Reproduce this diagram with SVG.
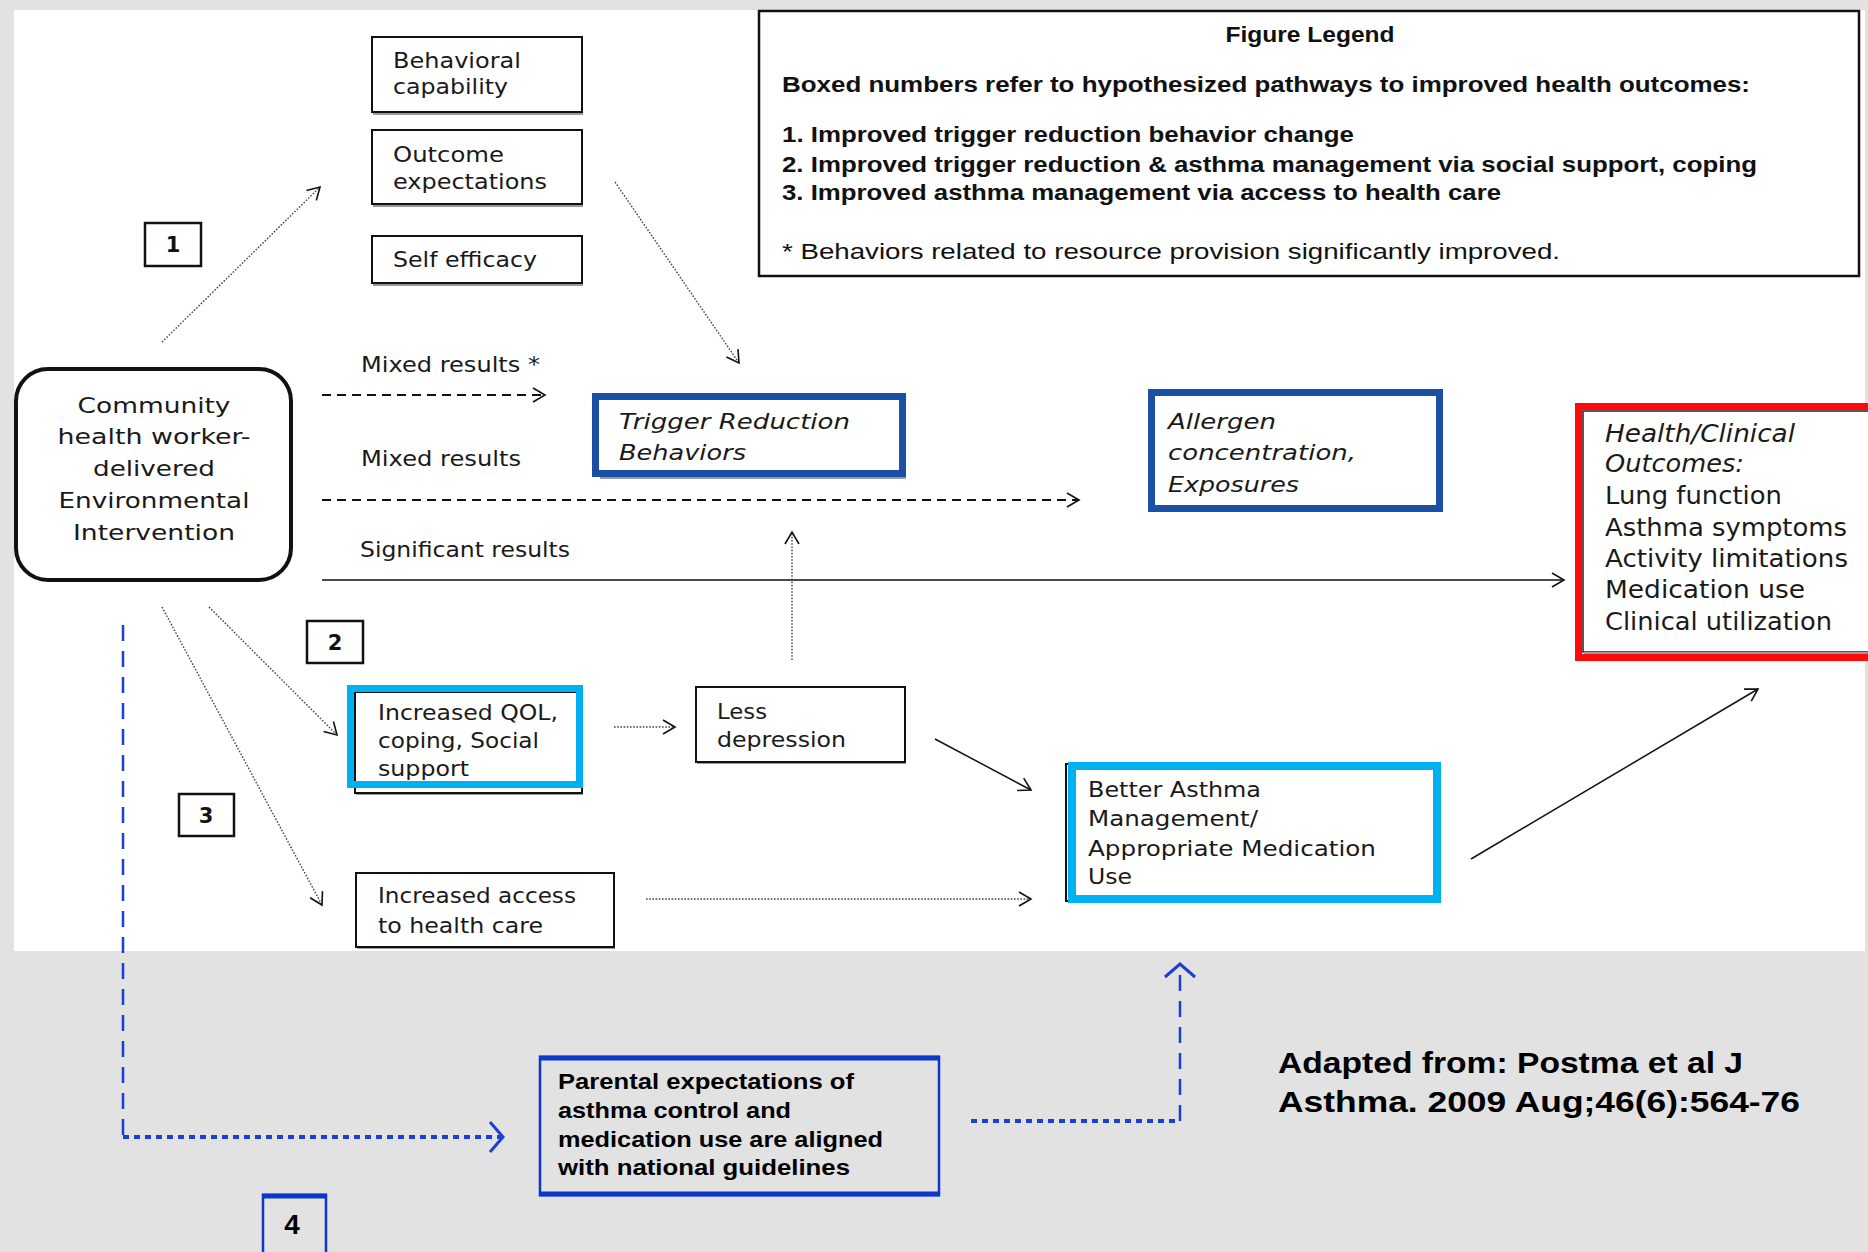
<svg xmlns="http://www.w3.org/2000/svg" width="1868" height="1252" viewBox="0 0 1868 1252">
<style>
.t{font-family:"DejaVu Sans",sans-serif;font-size:22px;fill:#1a1a1a}
.ti{font-family:"DejaVu Sans",sans-serif;font-size:22px;font-style:italic;fill:#1a1a1a}
.th{font-family:"DejaVu Sans",sans-serif;font-size:24px;fill:#1a1a1a}
.lg{font-family:"Liberation Sans",Arial,sans-serif;font-size:22px;font-weight:bold;fill:#111}
.lgn{font-family:"Liberation Sans",Arial,sans-serif;font-size:22px;fill:#111}
.num{font-family:"DejaVu Sans",sans-serif;font-size:21px;font-weight:bold;fill:#111;text-anchor:middle}
.pb{font-family:"Liberation Sans",Arial,sans-serif;font-size:22px;font-weight:bold;fill:#000}
.ad{font-family:"Liberation Sans",Arial,sans-serif;font-size:30px;font-weight:bold;fill:#000}
.box{fill:#fff;stroke:#111;stroke-width:2}
.shadow{fill:#9a9a9a}
.dot{fill:none;stroke:#444;stroke-width:1.4;stroke-dasharray:1.6 1.6}
.dash{fill:none;stroke:#111;stroke-width:1.8;stroke-dasharray:9 6}
.solid{fill:none;stroke:#111;stroke-width:1.5}
.bdash{fill:none;stroke:#1b3fd4;stroke-width:2.5;stroke-dasharray:16 10}
.bdot{fill:none;stroke:#1b3fd4;stroke-width:4;stroke-dasharray:6 5}
</style>
<defs>
<marker id="ah" markerUnits="userSpaceOnUse" markerWidth="16" markerHeight="16" refX="12" refY="7" orient="auto" overflow="visible">
<path d="M0,0 L12,7 L0,14" fill="none" stroke="#111" stroke-width="1.6"/>
</marker>
<marker id="abh" markerUnits="userSpaceOnUse" markerWidth="20" markerHeight="34" refX="13" refY="15" orient="auto" overflow="visible">
<path d="M0,0 L13,15 L0,30" fill="none" stroke="#1b3fd4" stroke-width="3"/>
</marker>
</defs>

<rect x="0" y="0" width="1868" height="1252" fill="#e2e2e2"/>
<rect x="14" y="10" width="1851" height="941" fill="#fff"/>

<g id="connectors">
<line class="dot" x1="162" y1="342" x2="320" y2="187" marker-end="url(#ah)"/>
<line class="dot" x1="615" y1="182" x2="739" y2="363" marker-end="url(#ah)"/>
<line class="dash" x1="322" y1="395" x2="545" y2="395" marker-end="url(#ah)"/>
<line class="dash" x1="322" y1="500" x2="1079" y2="500" marker-end="url(#ah)"/>
<line class="solid" x1="322" y1="580" x2="1564" y2="580" marker-end="url(#ah)"/>
<line class="dot" x1="792" y1="660" x2="792" y2="532" marker-end="url(#ah)"/>
<line class="dot" x1="209" y1="607" x2="337" y2="735" marker-end="url(#ah)"/>
<line class="dot" x1="162" y1="607" x2="322" y2="905" marker-end="url(#ah)"/>
<line class="dot" x1="614" y1="727" x2="675" y2="727" marker-end="url(#ah)"/>
<line class="solid" x1="935" y1="739" x2="1031" y2="790" stroke-width="1.2" marker-end="url(#ah)"/>
<line class="dot" x1="646" y1="899" x2="1031" y2="899" marker-end="url(#ah)"/>
<line class="solid" x1="1471" y1="859" x2="1758" y2="689" stroke-width="1.2" marker-end="url(#ah)"/>
<line class="bdash" x1="123" y1="625" x2="123" y2="1137"/>
<line class="bdot" x1="123" y1="1137" x2="503" y2="1137" marker-end="url(#abh)"/>
<line class="bdot" x1="971" y1="1121" x2="1180" y2="1121"/>
<line class="bdash" x1="1180" y1="1121" x2="1180" y2="964" marker-end="url(#abh)"/>
<text class="t" x="361" y="372" textLength="179" lengthAdjust="spacingAndGlyphs">Mixed results *</text>
<text class="t" x="361" y="466" textLength="160" lengthAdjust="spacingAndGlyphs">Mixed results</text>
<text class="t" x="360" y="557" textLength="210" lengthAdjust="spacingAndGlyphs">Significant results</text>
</g>

<g id="legend">
<rect x="759" y="11" width="1100" height="265" fill="#fff" stroke="#111" stroke-width="2.5"/>
<text class="lg" x="1310" y="42" text-anchor="middle" textLength="169" lengthAdjust="spacingAndGlyphs">Figure Legend</text>
<text class="lg" x="782" y="92" textLength="968" lengthAdjust="spacingAndGlyphs">Boxed numbers refer to hypothesized pathways to improved health outcomes:</text>
<text class="lg" x="782" y="142" textLength="572" lengthAdjust="spacingAndGlyphs">1. Improved trigger reduction behavior change</text>
<text class="lg" x="782" y="172" textLength="975" lengthAdjust="spacingAndGlyphs">2. Improved trigger reduction &amp; asthma management via social support, coping</text>
<text class="lg" x="782" y="200" textLength="719" lengthAdjust="spacingAndGlyphs">3. Improved asthma management via access to health care</text>
<text class="lgn" x="782" y="259" textLength="778" lengthAdjust="spacingAndGlyphs">* Behaviors related to resource provision  significantly improved.</text>
</g>

<g id="community">
<rect x="16" y="369" width="275" height="211" rx="32" fill="#fff" stroke="#111" stroke-width="4"/>
<text class="t" x="154" y="413" text-anchor="middle" textLength="153" lengthAdjust="spacingAndGlyphs">Community</text>
<text class="t" x="154" y="444" text-anchor="middle" textLength="193" lengthAdjust="spacingAndGlyphs">health worker-</text>
<text class="t" x="154" y="476" text-anchor="middle" textLength="122" lengthAdjust="spacingAndGlyphs">delivered</text>
<text class="t" x="154" y="508" text-anchor="middle" textLength="191" lengthAdjust="spacingAndGlyphs">Environmental</text>
<text class="t" x="154" y="540" text-anchor="middle" textLength="162" lengthAdjust="spacingAndGlyphs">Intervention</text>
</g>

<g id="behavioral">
<rect class="shadow" x="373" y="111" width="210" height="4"/>
<rect class="box" x="372" y="37" width="210" height="75"/>
<text class="t" x="393" y="68" textLength="128" lengthAdjust="spacingAndGlyphs">Behavioral</text>
<text class="t" x="393" y="94" textLength="115" lengthAdjust="spacingAndGlyphs">capability</text>
</g>

<g id="outcome">
<rect class="shadow" x="373" y="203" width="210" height="4"/>
<rect class="box" x="372" y="130" width="210" height="74"/>
<text class="t" x="393" y="162" textLength="111" lengthAdjust="spacingAndGlyphs">Outcome</text>
<text class="t" x="393" y="189" textLength="154" lengthAdjust="spacingAndGlyphs">expectations</text>
</g>

<g id="selfefficacy">
<rect class="shadow" x="373" y="282" width="210" height="4"/>
<rect class="box" x="372" y="236" width="210" height="47"/>
<text class="t" x="393" y="267" textLength="144" lengthAdjust="spacingAndGlyphs">Self efficacy</text>
</g>

<g id="num1">
<rect x="145" y="223" width="56" height="43" fill="#fff" stroke="#111" stroke-width="2.5"/>
<text class="num" x="173" y="252">1</text>
</g>
<g id="num2">
<rect x="307" y="621" width="56" height="42" fill="#fff" stroke="#111" stroke-width="2.5"/>
<text class="num" x="335" y="650">2</text>
</g>
<g id="num3">
<rect x="179" y="794" width="55" height="42" fill="#fff" stroke="#111" stroke-width="2.5"/>
<text class="num" x="206" y="823">3</text>
</g>

<g id="trigger">
<rect class="shadow" x="600" y="476" width="306" height="3"/>
<rect x="595.5" y="396.5" width="307" height="77" fill="#fff" stroke="#1b4fa3" stroke-width="7"/>
<text class="ti" x="619" y="429" textLength="231" lengthAdjust="spacingAndGlyphs">Trigger Reduction</text>
<text class="ti" x="619" y="460" textLength="127" lengthAdjust="spacingAndGlyphs">Behaviors</text>
</g>

<g id="allergen">
<rect x="1151.5" y="392.5" width="288" height="116" fill="#fff" stroke="#1b4fa3" stroke-width="7"/>
<text class="ti" x="1168" y="429" textLength="108" lengthAdjust="spacingAndGlyphs">Allergen</text>
<text class="ti" x="1168" y="460" textLength="188" lengthAdjust="spacingAndGlyphs">concentration,</text>
<text class="ti" x="1168" y="492" textLength="131" lengthAdjust="spacingAndGlyphs">Exposures</text>
</g>

<g id="health">
<rect x="1578.5" y="406.5" width="300" height="251" fill="#fff" stroke="#ff0a0a" stroke-width="7"/>
<rect x="1583" y="411" width="290" height="241" fill="#fff" stroke="#222" stroke-width="1.5"/>
<rect class="shadow" x="1584" y="652" width="290" height="2"/>
<text class="ti" x="1605" y="442" style="font-size:24px" textLength="190" lengthAdjust="spacingAndGlyphs">Health/Clinical</text>
<text class="ti" x="1605" y="472" style="font-size:24px" textLength="139" lengthAdjust="spacingAndGlyphs">Outcomes:</text>
<text class="th" x="1605" y="504" textLength="177" lengthAdjust="spacingAndGlyphs">Lung function</text>
<text class="th" x="1605" y="536" textLength="242" lengthAdjust="spacingAndGlyphs">Asthma symptoms</text>
<text class="th" x="1605" y="567" textLength="243" lengthAdjust="spacingAndGlyphs">Activity limitations</text>
<text class="th" x="1605" y="598" textLength="200" lengthAdjust="spacingAndGlyphs">Medication use</text>
<text class="th" x="1605" y="630" textLength="227" lengthAdjust="spacingAndGlyphs">Clinical utilization</text>
</g>

<g id="qol">
<rect class="shadow" x="356" y="792" width="227" height="3"/>
<rect class="box" x="355" y="692" width="227" height="101"/>
<rect x="350.5" y="688.5" width="229" height="96" fill="none" stroke="#00b0f0" stroke-width="7"/>
<text class="t" x="378" y="720" textLength="180" lengthAdjust="spacingAndGlyphs">Increased QOL,</text>
<text class="t" x="378" y="748" textLength="161" lengthAdjust="spacingAndGlyphs">coping, Social</text>
<text class="t" x="378" y="776" textLength="91" lengthAdjust="spacingAndGlyphs">support</text>
</g>

<g id="depression">
<rect class="shadow" x="697" y="761" width="209" height="3"/>
<rect class="box" x="696" y="687" width="209" height="75"/>
<text class="t" x="717" y="719" textLength="50" lengthAdjust="spacingAndGlyphs">Less</text>
<text class="t" x="717" y="747" textLength="129" lengthAdjust="spacingAndGlyphs">depression</text>
</g>

<g id="access">
<rect class="shadow" x="357" y="946" width="258" height="3"/>
<rect class="box" x="356" y="873" width="258" height="74"/>
<text class="t" x="378" y="903" textLength="198" lengthAdjust="spacingAndGlyphs">Increased access</text>
<text class="t" x="378" y="933" textLength="165" lengthAdjust="spacingAndGlyphs">to health care</text>
</g>

<g id="better">
<rect class="box" x="1066" y="764" width="372" height="137"/>
<rect x="1072" y="766" width="365" height="133" fill="none" stroke="#00b0f0" stroke-width="8"/>
<text class="t" x="1088" y="797" textLength="173" lengthAdjust="spacingAndGlyphs">Better Asthma</text>
<text class="t" x="1088" y="826" textLength="170" lengthAdjust="spacingAndGlyphs">Management/</text>
<text class="t" x="1088" y="856" textLength="288" lengthAdjust="spacingAndGlyphs">Appropriate Medication</text>
<text class="t" x="1088" y="884" textLength="44" lengthAdjust="spacingAndGlyphs">Use</text>
</g>

<g id="parental">
<rect x="540" y="1057" width="399" height="138" fill="none" stroke="#0b37cc" stroke-width="2.5"/>
<line x1="539" y1="1058" x2="940" y2="1058" stroke="#0b37cc" stroke-width="5"/>
<line x1="539" y1="1194" x2="940" y2="1194" stroke="#0b37cc" stroke-width="5"/>
<text class="pb" x="558" y="1089" textLength="296" lengthAdjust="spacingAndGlyphs">Parental expectations of</text>
<text class="pb" x="558" y="1118" textLength="233" lengthAdjust="spacingAndGlyphs">asthma control and</text>
<text class="pb" x="558" y="1147" textLength="325" lengthAdjust="spacingAndGlyphs">medication use are aligned</text>
<text class="pb" x="558" y="1175" textLength="292" lengthAdjust="spacingAndGlyphs">with national guidelines</text>
</g>

<g id="num4">
<rect x="263" y="1195" width="63" height="60" fill="none" stroke="#0b37cc" stroke-width="2.5"/>
<line x1="262" y1="1196" x2="327" y2="1196" stroke="#0b37cc" stroke-width="5"/>
<text x="292" y="1234" text-anchor="middle" style="font-family:'Liberation Sans',Arial,sans-serif;font-size:28px;font-weight:bold;fill:#000">4</text>
</g>

<g id="citation">
<text class="ad" x="1278" y="1073" textLength="465" lengthAdjust="spacingAndGlyphs">Adapted from: Postma et al J</text>
<text class="ad" x="1278" y="1112" textLength="522" lengthAdjust="spacingAndGlyphs">Asthma. 2009 Aug;46(6):564-76</text>
</g>
</svg>
